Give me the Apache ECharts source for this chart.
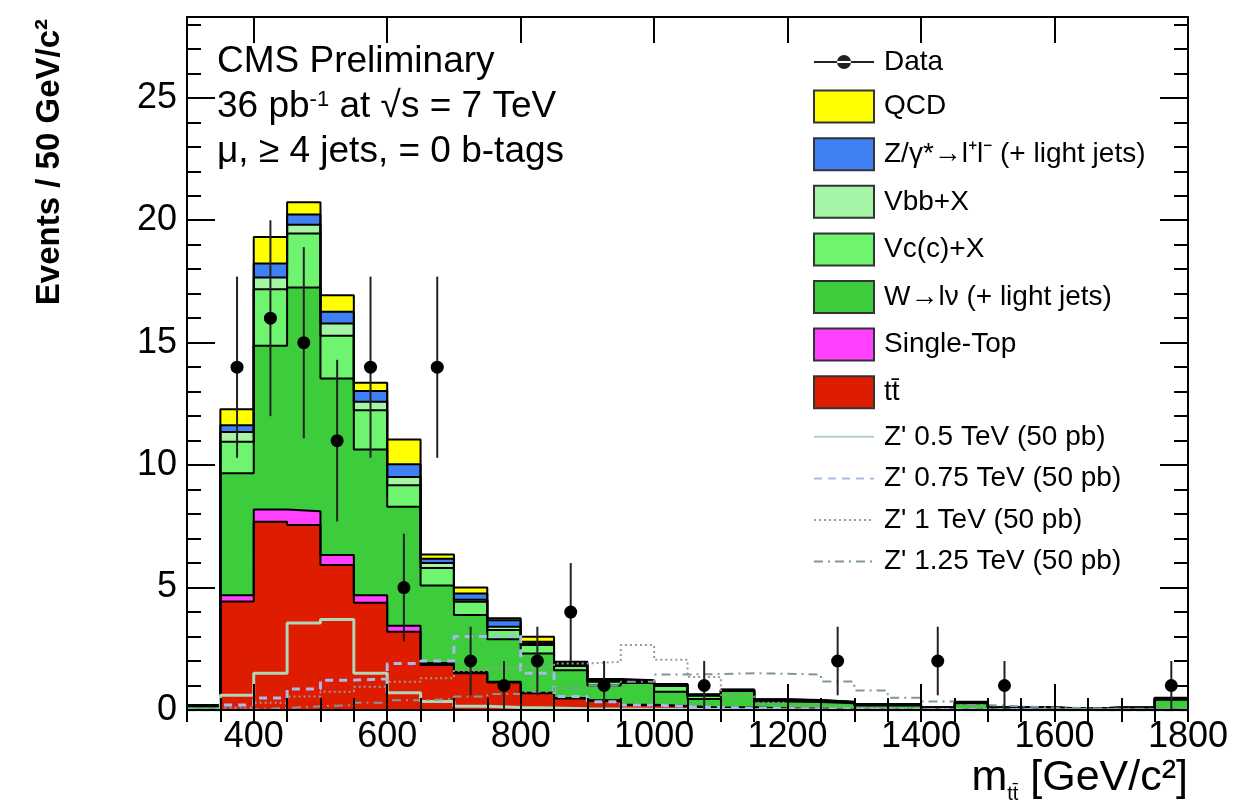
<!DOCTYPE html>
<html>
<head>
<meta charset="utf-8">
<script src="https://cdn.jsdelivr.net/npm/echarts@6/dist/echarts.min.js"></script>
<style>
html,body{margin:0;padding:0;background:#ffffff;}
#chart{width:1236px;height:805px;}
</style>
</head>
<body>
<div id="chart"></div>
<script>
// ---- bins (GeV/c^2) ----
const binEdges = [300,350,400,450,500,550,600,650,700,750,800,850,900,950,1000,1050,1100,1150,1200,1250,1300,1350,1400,1450,1500,1550,1600,1650,1700,1750,1800];

// ---- data ----
const dataCounts = [0,14,16,15,11,14,5,14,2,1,2,4,1,0,0,1,0,0,0,2,0,0,2,0,1,0,0,0,0,1];
const dataErrors = [0,3.7,4.0,3.9,3.3,3.7,2.2,3.7,1.4,1.0,1.4,2.0,1.0,0,0,1.0,0,0,0,1.4,0,0,1.4,0,1.0,0,0,0,0,1.0];

// ---- background processes (per bin, stacked bottom -> top) ----
const ttbar     = [0.02,4.43,7.69,7.55,5.92,4.38,3.2,1.84,1.5,1.12,0.68,0.47,0.38,0.2,0.15,0.08,0.1,0.05,0.05,0.03,0.02,0.02,0.01,0.02,0.01,0.01,0.01,0.01,0.01,0.02];
const singleTop = [0,0.26,0.5,0.57,0.41,0.31,0.24,0.08,0.05,0.03,0.02,0.02,0.02,0.01,0.01,0.01,0.01,0.01,0,0,0,0,0,0,0,0,0,0,0,0];
const wJets     = [0.13,4.98,6.68,9.13,7.21,5.95,4.86,3.16,2.33,1.74,1.61,1.13,0.6,0.89,0.59,0.36,0.67,0.29,0.28,0.25,0.16,0.16,0.07,0.26,0.07,0.07,0.03,0.07,0.07,0.40];
const vcX       = [0.02,1.28,2.31,2.21,1.74,1.6,0.88,0.72,0.54,0.38,0.34,0.18,0.15,0.06,0.23,0.13,0.02,0.05,0.05,0.03,0.03,0.03,0.01,0.03,0.01,0.01,0.01,0.01,0.01,0.04];
const vbbX      = [0.01,0.4,0.48,0.36,0.5,0.35,0.34,0.2,0.08,0.13,0.07,0.06,0.05,0.02,0.04,0.02,0.02,0.02,0.01,0.01,0.01,0.01,0.01,0.01,0.01,0.01,0,0.01,0.01,0.02];
const zJets     = [0.01,0.28,0.57,0.41,0.48,0.44,0.52,0.18,0.26,0.27,0.07,0.06,0.04,0.02,0.02,0.02,0.01,0.01,0.01,0.01,0.01,0.01,0,0.01,0,0,0,0,0,0.01];
const qcd       = [0.01,0.65,1.09,0.5,0.68,0.33,1.01,0.17,0.24,0.08,0.2,0.05,0.03,0.02,0.02,0.02,0.01,0.01,0.01,0.01,0.01,0.01,0.01,0.01,0.01,0.01,0,0,0,0.01];

// ---- Z' signals (50 pb) ----
const zp500  = [0,0.6,1.5,3.55,3.7,1.5,0.7,0.35,0.15,0.1,0.08,0.05,0.04,0.03,0.02,0.02,0.01,0.01,0,0,0,0,0,0,0,0,0,0,0,0];
const zp750  = [0,0.2,0.49,0.86,1.22,1.27,1.9,2.0,3.0,3.05,1.5,0.55,0.34,0.2,0.15,0.1,0.08,0.06,0.05,0.04,0.03,0.02,0.02,0.01,0.01,0.01,0.01,0,0,0];
const zp1000 = [0,0.1,0.3,0.55,0.75,0.95,1.15,1.3,1.6,1.7,1.75,1.9,1.97,2.65,2.05,1.35,0.6,0.3,0.15,0.1,0.06,0.05,0.03,0.02,0.02,0.01,0.01,0.01,0,0];
const zp1250 = [0,0.03,0.08,0.15,0.2,0.3,0.4,0.45,0.55,0.65,0.75,0.9,1.0,1.15,1.45,1.47,1.5,1.48,1.45,1.16,0.8,0.5,0.35,0.2,0.15,0.1,0.08,0.05,0.05,0.04];

// ---- axis ticks ----
const xMajorTicks = [400,600,800,1000,1200,1400,1600,1800];
const xMinorStep = 50;
const yMajorStep = 5;
const yMinorStep = 1;
const xRange = [300, 1800];
const yRange = [0, 28.3];

const FONT = "'Liberation Sans', Arial, Helvetica, sans-serif";

function cumulate(layers) {
  const out = [];
  let run = layers[0].map(() => 0);
  layers.forEach(l => { run = run.map((v, i) => v + l[i]); out.push(run.slice()); });
  return out;
}
function stepPoints(vals) {
  const last = binEdges[binEdges.length - 1];
  const pts = [[binEdges[0], 0]];
  vals.forEach((v, i) => pts.push([binEdges[i], v]));
  pts.push([last, vals[vals.length - 1]]);
  pts.push([last, 0]);
  return pts;
}

const layerDefs = [
  { name: 't\u0074\u0304', vals: ttbar, color: '#dd1c00' },
  { name: 'Single-Top', vals: singleTop, color: '#ff40ff' },
  { name: 'W\u2192l\u03bd (+ light jets)', vals: wJets, color: '#3ccc3c' },
  { name: 'Vc(c)+X', vals: vcX, color: '#6ef46e' },
  { name: 'Vbb+X', vals: vbbX, color: '#a6f5a6' },
  { name: 'Z/\u03b3*\u2192l\u207Al\u207B (+ light jets)', vals: zJets, color: '#3f80f5' },
  { name: 'QCD', vals: qcd, color: '#ffff00' }
];
const cum = cumulate(layerDefs.map(d => d.vals));

const series = [];
for (let k = layerDefs.length - 1; k >= 0; k--) {
  const d = layerDefs[k];
  series.push({
    type: 'line', name: d.name, data: stepPoints(cum[k]), step: 'end',
    symbol: 'none', showSymbol: false, silent: true, animation: false,
    emphasis: { disabled: true }, z: 2,
    itemStyle: { color: d.color },
    lineStyle: { color: '#000', width: 2 },
    areaStyle: { color: d.color, opacity: 1 }
  });
}

const signalDefs = [
  { name: "Z' 0.5 TeV (50 pb)", vals: zp500, color: '#b2d4b8', width: 3, type: 'solid' },
  { name: "Z' 0.75 TeV (50 pb)", vals: zp750, color: '#a9b9ee', width: 3, type: [8, 6] },
  { name: "Z' 1 TeV (50 pb)", vals: zp1000, color: '#999999', width: 2, type: [2, 3] },
  { name: "Z' 1.25 TeV (50 pb)", vals: zp1250, color: '#7f969e', width: 2, type: [9, 5, 2, 5] }
];
signalDefs.forEach(s => {
  series.push({
    type: 'line', name: s.name, data: stepPoints(s.vals), step: 'end',
    symbol: 'none', showSymbol: false, silent: true, animation: false,
    emphasis: { disabled: true }, z: 3,
    itemStyle: { color: s.color },
    lineStyle: { color: s.color, width: s.width, type: s.type }
  });
});

const centers = binEdges.slice(0, -1).map((e, i) => (e + binEdges[i + 1]) / 2);
const errData = [], ptData = [];
dataCounts.forEach((n, i) => {
  if (n > 0) {
    ptData.push([centers[i], n]);
    errData.push([centers[i], Math.max(0, n - dataErrors[i]), n + dataErrors[i]]);
  }
});
series.push({
  type: 'custom', name: 'Data errors', data: errData, silent: true, animation: false, z: 4,
  encode: { x: 0, y: [1, 2] },
  renderItem: function (params, api) {
    const p1 = api.coord([api.value(0), api.value(1)]);
    const p2 = api.coord([api.value(0), api.value(2)]);
    return { type: 'line', shape: { x1: p1[0], y1: p1[1], x2: p2[0], y2: p2[1] },
             style: { stroke: '#222', lineWidth: 2 } };
  }
});
series.push({
  type: 'scatter', name: 'Data', data: ptData, symbol: 'circle', symbolSize: 13,
  itemStyle: { color: '#000', opacity: 1 }, silent: true, animation: false, z: 5
});

const dataIcon = 'path://M0,6h60v2h-60z M23,7a7,7 0 1,0 14,0a7,7 0 1,0 -14,0z';
const legendData = [{ name: 'Data', icon: dataIcon, itemStyle: { color: '#222', borderWidth: 0 } }];
for (let k = layerDefs.length - 1; k >= 0; k--) {
  legendData.push({ name: layerDefs[k].name, icon: 'rect',
    itemStyle: { color: layerDefs[k].color, borderColor: '#333', borderWidth: 2 } });
}
signalDefs.forEach(s => legendData.push({ name: s.name, itemStyle: { opacity: 0 } }));

function xAxisDef(pos, opts) {
  return Object.assign({
    type: 'value', position: pos, min: xRange[0], max: xRange[1], gridIndex: 0, z: 10,
    splitLine: { show: false }, axisLabel: { show: false },
    axisLine: { show: false }, nameMoveOverlap: false
  }, opts);
}
function yAxisDef(pos, opts) {
  return Object.assign({
    type: 'value', position: pos, min: yRange[0], max: yRange[1], gridIndex: 0, z: 10,
    splitLine: { show: false }, axisLabel: { show: false },
    axisLine: { show: false }, nameMoveOverlap: false
  }, opts);
}

const option = {
  backgroundColor: '#ffffff',
  animation: false,
  grid: { left: 187, right: 48, top: 17, bottom: 95, outerBoundsMode: 'none', containLabel: false },
  legend: {
    orient: 'vertical', left: 813, top: 48, padding: 0,
    itemWidth: 60, itemHeight: 32, itemGap: 13.6,
    selectedMode: false,
    textStyle: { fontFamily: FONT, fontSize: 28, color: '#000', padding: [0, 0, 0, 5] },
    data: legendData
  },
  xAxis: [
    xAxisDef('bottom', {
      axisLine: { show: true, onZero: false, lineStyle: { color: '#000', width: 2 } },
      axisTick: { show: true, inside: true, length: 26, customValues: xMajorTicks, lineStyle: { color: '#000', width: 2 } },
      axisLabel: { show: true, customValues: xMajorTicks, fontFamily: FONT, fontSize: 36, color: '#000', margin: 9,
        formatter: v => String(v) },
      name: '{m|m}{s|tt\u0304}{m| [GeV/c\u00b2]}',
      nameLocation: 'end', nameGap: 0,
      nameTextStyle: {
        align: 'right', verticalAlign: 'top', padding: [42, 0, 0, 0],
        rich: {
          m: { fontFamily: FONT, fontSize: 43, lineHeight: 52, color: '#000' },
          s: { fontFamily: FONT, fontSize: 20, lineHeight: 18, color: '#000', verticalAlign: 'bottom' }
        }
      }
    }),
    xAxisDef('bottom', {
      interval: xMinorStep,
      axisTick: { show: true, inside: true, length: 12, lineStyle: { color: '#000', width: 2 } }
    }),
    xAxisDef('top', {
      axisLine: { show: true, onZero: false, lineStyle: { color: '#000', width: 2 } },
      axisTick: { show: true, inside: true, length: 26, customValues: xMajorTicks, lineStyle: { color: '#000', width: 2 } },
      axisLabel: { show: false, customValues: xMajorTicks }
    }),
    xAxisDef('top', {
      interval: xMinorStep,
      axisTick: { show: true, inside: true, length: 12, lineStyle: { color: '#000', width: 2 } }
    })
  ],
  yAxis: [
    yAxisDef('left', {
      interval: yMajorStep,
      axisLine: { show: true, onZero: false, lineStyle: { color: '#000', width: 2 } },
      axisTick: { show: true, inside: true, length: 28, lineStyle: { color: '#000', width: 2 } },
      axisLabel: { show: true, showMaxLabel: false, fontFamily: FONT, fontSize: 36, color: '#000', margin: 10 },
      name: 'Events / 50 GeV/c\u00b2',
      nameLocation: 'end', nameGap: -2, nameRotate: 90,
      nameTextStyle: { fontFamily: FONT, fontSize: 33, fontWeight: 'bold', color: '#000',
        align: 'right', verticalAlign: 'bottom', padding: [0, 0, 121, 0] }
    }),
    yAxisDef('left', {
      interval: yMinorStep,
      axisTick: { show: true, inside: true, length: 14, lineStyle: { color: '#000', width: 2 } }
    }),
    yAxisDef('right', {
      interval: yMajorStep,
      axisLine: { show: true, onZero: false, lineStyle: { color: '#000', width: 2 } },
      axisTick: { show: true, inside: true, length: 28, lineStyle: { color: '#000', width: 2 } }
    }),
    yAxisDef('right', {
      interval: yMinorStep,
      axisTick: { show: true, inside: true, length: 14, lineStyle: { color: '#000', width: 2 } }
    })
  ],
  graphic: [
    { type: 'text', x: 217, y: 62, silent: true,
      style: { text: 'CMS Preliminary', fontFamily: FONT, fontSize: 37, fill: '#000', verticalAlign: 'middle' } },
    { type: 'text', x: 217, y: 107, silent: true,
      style: { text: '36 pb{sup|-1} at \u221As = 7 TeV', fontFamily: FONT, fontSize: 37, fill: '#000', verticalAlign: 'middle',
        rich: { sup: { fontFamily: FONT, fontSize: 22, lineHeight: 22, verticalAlign: 'top', fill: '#000' } } } },
    { type: 'text', x: 217, y: 152, silent: true,
      style: { text: '\u03bc, \u2265 4 jets, = 0 b-tags', fontFamily: FONT, fontSize: 37, fill: '#000', verticalAlign: 'middle' } }
  ],
  series: series
};

const chart = echarts.init(document.getElementById('chart'), null, { renderer: 'canvas' });
chart.setOption(option);
</script>
</body>
</html>
